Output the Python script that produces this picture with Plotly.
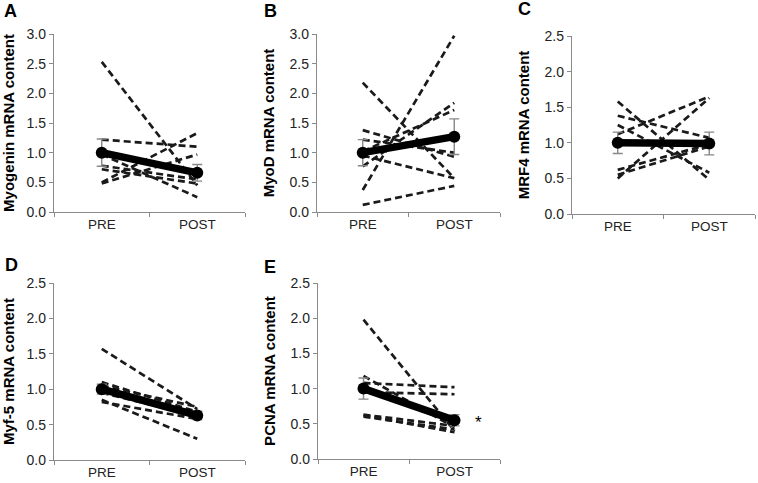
import plotly.graph_objects as go

timepoints = ["PRE", "POST"]

# Individual subjects (PRE -> POST)
myogenin_pre = [2.53, 1.22, 0.50, 0.48, 0.97, 0.78, 0.72]
myogenin_post = [0.45, 1.10, 1.33, 0.97, 0.25, 0.55, 0.48]
myod_pre = [2.18, 0.37, 0.12, 1.38, 1.22, 0.77, 1.02, 0.95]
myod_post = [0.57, 2.97, 0.44, 0.93, 1.00, 1.84, 1.72, 0.57]
mrf4_pre = [1.58, 1.38, 1.25, 1.12, 0.62, 0.50, 0.55]
mrf4_post = [0.48, 1.07, 0.58, 1.65, 0.98, 1.63, 0.95]
myf5_pre = [1.57, 1.10, 1.05, 0.85, 0.82, 0.95, 0.98]
myf5_post = [0.72, 0.68, 0.75, 0.30, 0.58, 0.62, 0.65]
pcna_pre = [1.98, 1.18, 1.08, 0.95, 0.63, 0.60, 0.62]
pcna_post = [0.40, 0.45, 1.02, 0.92, 0.47, 0.42, 0.38]

# Group means and SEM
myogenin_mean = [1.00, 0.66]
myogenin_sem = [0.23, 0.14]
myod_mean = [1.00, 1.27]
myod_sem = [0.22, 0.30]
mrf4_mean = [1.00, 0.99]
mrf4_sem = [0.15, 0.16]
myf5_mean = [1.00, 0.63]
myf5_sem = [0.07, 0.06]
pcna_mean = [1.00, 0.55]
pcna_sem = [0.15, 0.08]

panel_letters = ["A", "B", "C", "D", "E"]
y_titles = ["Myogenin mRNA content", "MyoD mRNA content", "MRF4 mRNA content",
            "Myf-5 mRNA content", "PCNA mRNA content"]
y_max = [3.0, 3.0, 2.5, 2.5, 2.5]

panels = [
    (myogenin_pre, myogenin_post, myogenin_mean, myogenin_sem),
    (myod_pre, myod_post, myod_mean, myod_sem),
    (mrf4_pre, mrf4_post, mrf4_mean, mrf4_sem),
    (myf5_pre, myf5_post, myf5_mean, myf5_sem),
    (pcna_pre, pcna_post, pcna_mean, pcna_sem),
]

W, H = 758, 483
# pixel boxes: (left, right, top, bottom)
boxes = [(54, 245, 34, 212), (317, 500, 34, 212), (572, 755, 36, 214),
         (54, 245, 283, 460), (318, 500, 283, 459)]
# letter positions (left x, centre y) in pixels
letter_pos = [(2, 11), (262, 11), (516, 9), (3, 265), (262, 267)]

fig = go.Figure()
layout = dict(width=W, height=H, margin=dict(l=0, r=0, t=0, b=0),
              plot_bgcolor="white", paper_bgcolor="white", showlegend=False,
              font=dict(family="Liberation Sans, Arial, sans-serif", color="#222"))
annotations = []
xcat = [1, 2]
for i, (pre, post, mean, sem) in enumerate(panels):
    n = i + 1
    xa = "x" if n == 1 else f"x{n}"
    ya = "y" if n == 1 else f"y{n}"
    for a, b in zip(pre, post):
        fig.add_trace(go.Scatter(x=xcat, y=[a, b], mode="lines", xaxis=xa, yaxis=ya,
                                 line=dict(color="#1a1a1a", width=2.7, dash="7px,4px")))
    fig.add_trace(go.Scatter(x=xcat, y=mean, mode="lines+markers", xaxis=xa, yaxis=ya,
                             line=dict(color="black", width=7.5),
                             marker=dict(color="black", size=12),
                             error_y=dict(type="data", array=sem, color="#888",
                                          thickness=1.4, width=5)))
    l, r, t, b = boxes[i]
    xkey = "xaxis" if n == 1 else f"xaxis{n}"
    ykey = "yaxis" if n == 1 else f"yaxis{n}"
    layout[xkey] = dict(domain=[l / W, r / W], anchor=ya, range=[0.5, 2.5],
                        tickvals=xcat, ticktext=timepoints, ticks="", showgrid=False,
                        zeroline=False, showline=True, linecolor="#8a8a8a", linewidth=1.3,
                        tickfont=dict(size=13.5, color="#222"), automargin=False,
                        minor=dict(tickvals=[0.5, 1.5, 2.5], ticks="outside",
                                   ticklen=4, tickcolor="#8a8a8a"),
                        fixedrange=True)
    layout[ykey] = dict(domain=[1 - b / H, 1 - t / H], anchor=xa, range=[0, y_max[i]],
                        dtick=0.5, tickformat=".1f", ticks="outside", ticklen=4,
                        tickcolor="#8a8a8a", showgrid=False, zeroline=False,
                        showline=True, linecolor="#8a8a8a", linewidth=1.3,
                        tickfont=dict(size=14, color="#222"), automargin=False,
                        title=dict(text=y_titles[i], standoff=11,
                                   font=dict(size=15, color="black",
                                             family="Liberation Sans, Arial, sans-serif",
                                             weight="bold")),
                        fixedrange=True)
    lx, ly = letter_pos[i]
    annotations.append(dict(text=f"<b>{panel_letters[i]}</b>", xref="paper", yref="paper",
                            x=lx / W, y=1 - ly / H, xanchor="left",
                            yanchor="middle", showarrow=False,
                            font=dict(size=18, color="black")))

annotations.append(dict(text="*", xref="x5", yref="y5", x=2.26, y=0.52, showarrow=False,
                        font=dict(size=17, color="black")))
layout["annotations"] = annotations
fig.update_layout(**layout)
fig.write_html("out.html", config={"displayModeBar": False},
               post_script="document.body.style.margin='0';document.body.style.overflow='hidden';")
